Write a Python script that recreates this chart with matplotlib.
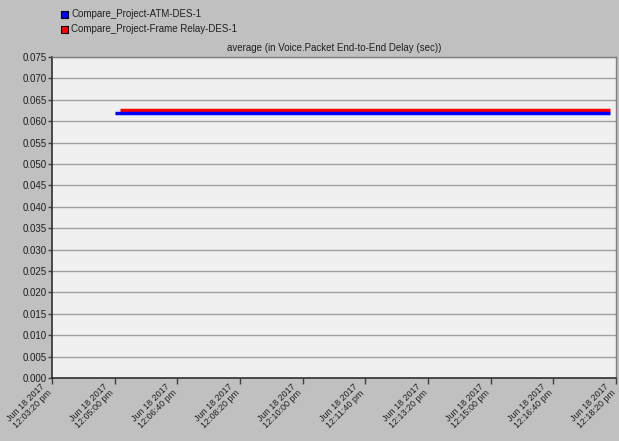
import matplotlib
matplotlib.use("Agg")
import matplotlib.pyplot as plt
import matplotlib.transforms as mtransforms
from matplotlib.patches import Rectangle

plt.rcParams['font.family'] = ['Liberation Sans', 'DejaVu Sans']

# time in seconds after 12:03:20 pm
tick_secs = [0, 100, 200, 300, 400, 500, 600, 700, 800, 900]
tick_labels = ["Jun 18 2017\n12:03:20 pm", "Jun 18 2017\n12:05:00 pm", "Jun 18 2017\n12:06:40 pm",
               "Jun 18 2017\n12:08:20 pm", "Jun 18 2017\n12:10:00 pm", "Jun 18 2017\n12:11:40 pm",
               "Jun 18 2017\n12:13:20 pm", "Jun 18 2017\n12:15:00 pm", "Jun 18 2017\n12:16:40 pm",
               "Jun 18 2017\n12:18:20 pm"]

atm_t = [100, 890]
atm_delay = [0.0619, 0.0619]
fr_t = [108, 890]
fr_delay = [0.0625, 0.0625]

series_names = ["Compare_Project-ATM-DES-1", "Compare_Project-Frame Relay-DES-1"]
colors = ['#0000ff', '#ff0000']

fig = plt.figure(figsize=(6.19, 4.41), dpi=100, facecolor='#c0c0c0')
ax = fig.add_axes([52/619, 1-378/441, 564/619, 321/441])
ax.set_facecolor('#f0f0f0')

yt = [i*0.005 for i in range(16)]
ax.set_yticks(yt)
ax.set_yticklabels(["%.3f" % v for v in yt], fontsize=7, color='#202020')
ax.set_ylim(0, 0.075)
ax.set_xlim(0, 900)
ax.set_xticks(tick_secs)
ax.set_xticklabels([])
# rotated date labels, second line ending at the tick
lab_tr = ax.get_xaxis_transform() + mtransforms.ScaledTranslation(1/100, -17/100, fig.dpi_scale_trans)
for t, lab in zip(tick_secs, tick_labels):
    ax.text(t, 0, lab, transform=lab_tr, fontsize=6.5, rotation=45, ha='right', va='bottom',
            rotation_mode='anchor', color='#202020', linespacing=1.0, clip_on=False)
ax.tick_params(axis='x', length=4, width=1, pad=2, color='#404040')
ax.tick_params(axis='y', length=3, width=1, pad=1, color='#404040')
ax.grid(axis='y', color='#a0a0a0', linewidth=1)
ax.set_axisbelow(True)
for s in ['left', 'bottom']:
    ax.spines[s].set_color('#303030')
    ax.spines[s].set_linewidth(1.2)
for s in ['top', 'right']:
    ax.spines[s].set_color('#808080')
    ax.spines[s].set_linewidth(1)

ax.plot(fr_t, fr_delay, color=colors[1], linewidth=2.5, solid_capstyle='butt')
ax.plot(atm_t, atm_delay, color=colors[0], linewidth=2.5, solid_capstyle='butt')

ax.set_title("average (in Voice.Packet End-to-End Delay (sec))", fontsize=7, pad=4, color='#202020')

# legend at top left
for i, name in enumerate(series_names):
    y = 1 - (14 + 15*i)/441
    fig.patches.append(Rectangle((61/619, y - 4/441), 7/619, 7/441, transform=fig.transFigure,
                                 facecolor=colors[i], edgecolor='#000000', linewidth=0.8))
    fig.text(71/619, y, name, fontsize=7, va='center', ha='left', color='#202020')

fig.savefig("out.png", dpi=100, facecolor=fig.get_facecolor())
